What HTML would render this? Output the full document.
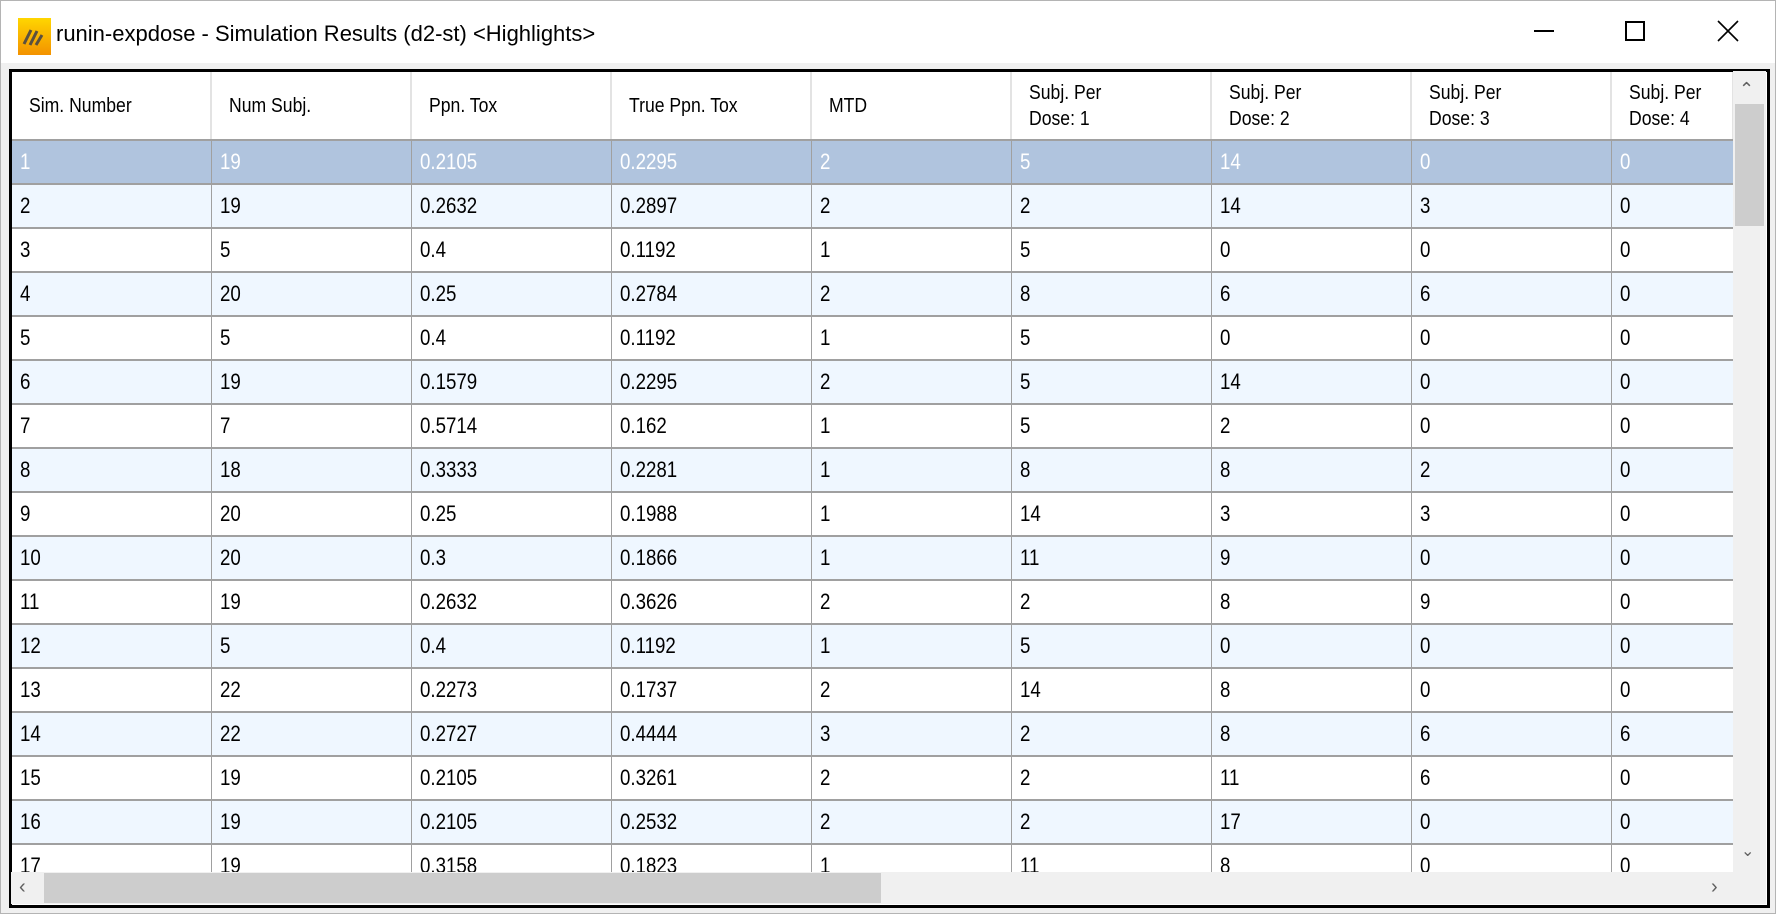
<!DOCTYPE html>
<html><head><meta charset="utf-8"><style>
*{box-sizing:border-box;margin:0;padding:0}
body{width:1776px;height:914px;background:#fff;position:relative;overflow:hidden;font-family:"Liberation Sans",sans-serif}
.win{position:absolute;left:0;top:0;width:1776px;height:914px;border:1px solid #b4b4b4;background:#f0f0f0}
.title{position:absolute;left:0;top:0;width:1774px;height:62px;background:#fff}
.ttext{position:absolute;left:55px;top:20px;font-size:22px;color:#000;white-space:nowrap}
.grid{position:absolute;left:8px;top:68px;width:1761px;height:839px;border:3px solid #000;background:#fff;overflow:hidden}
.cell{position:absolute;height:44px;border-right:1px solid #a0a0a0;overflow:hidden;white-space:nowrap;font-size:22px;line-height:42px;padding-left:8px}
.cell span{display:inline-block;transform:scaleX(.85);transform-origin:left center}
.hdr{position:absolute;top:0;height:67px;background:#fff;border-right:2px solid #e3e3e3;font-size:20px;padding-left:17px;display:flex;align-items:center;line-height:26px;color:#000}
.hdr span{display:inline-block;transform:scaleX(.88);transform-origin:left center}
.hline{position:absolute;left:0;width:1722px;height:2px;background:#a0a0a0}
</style></head><body>
<div class="win">
 <div class="title">
  <svg style="position:absolute;left:17px;top:17px" width="33" height="37" viewBox="0 0 33 37">
   <defs><linearGradient id="g" x1="0" y1="0" x2="0" y2="1"><stop offset="0" stop-color="#ffd600"/><stop offset="1" stop-color="#f39200"/></linearGradient></defs>
   <rect width="33" height="37" fill="url(#g)"/>
   <path d="M6 26 L13 12 M12 27 L19 13 M18 27 L24 17" stroke="#5a5040" stroke-width="3" fill="none"/>
  </svg>
  <div class="ttext">runin-expdose - Simulation Results (d2-st) &lt;Highlights&gt;</div>
  <div style="position:absolute;left:1533px;top:29px;width:20px;height:2px;background:#000"></div>
  <div style="position:absolute;left:1624px;top:20px;width:20px;height:20px;border:2px solid #000"></div>
  <svg style="position:absolute;left:1716px;top:19px" width="22" height="22"><path d="M1 1L21 21M21 1L1 21" stroke="#000" stroke-width="1.6"/></svg>
 </div>
 <div class="grid" id="grid"></div>
</div>
<script>
const colHeaders=["Sim. Number","Num Subj.","Ppn. Tox","True Ppn. Tox","MTD","Subj. Per<br>Dose: 1","Subj. Per<br>Dose: 2","Subj. Per<br>Dose: 3","Subj. Per<br>Dose: 4"];
const simNumber=[1,2,3,4,5,6,7,8,9,10,11,12,13,14,15,16,17];
const numSubj=[19,19,5,20,5,19,7,18,20,20,19,5,22,22,19,19,19];
const ppnTox=["0.2105","0.2632","0.4","0.25","0.4","0.1579","0.5714","0.3333","0.25","0.3","0.2632","0.4","0.2273","0.2727","0.2105","0.2105","0.3158"];
const trueTox=["0.2295","0.2897","0.1192","0.2784","0.1192","0.2295","0.162","0.2281","0.1988","0.1866","0.3626","0.1192","0.1737","0.4444","0.3261","0.2532","0.1823"];
const mtd=[2,2,1,2,1,2,1,1,1,1,2,1,2,3,2,2,1];
const dose1=[5,2,5,8,5,5,5,8,14,11,2,5,14,2,2,2,11];
const dose2=[14,14,0,6,0,14,2,8,3,9,8,0,8,8,11,17,8];
const dose3=[0,3,0,6,0,0,0,2,3,0,9,0,0,6,6,0,0];
const dose4=[0,0,0,0,0,0,0,0,0,0,0,0,0,6,0,0,0];
const cols=[simNumber,numSubj,ppnTox,trueTox,mtd,dose1,dose2,dose3,dose4];
const g=document.getElementById('grid');
const colW=200, colX=i=>i*colW, rowY=r=>67+r*44, dataW=1722;
colHeaders.forEach((h,i)=>{
  const d=document.createElement('div');d.className='hdr';
  
  
  d.style.left=colX(i)+'px';d.style.width=(i==8?dataW-colX(i):colW)+'px';
  d.innerHTML='<span>'+h+'</span>';g.appendChild(d);
});
simNumber.forEach((_,r)=>{
  const y=rowY(r);
  const bg=r==0?'#b0c4de':(r%2==1?'#eff7ff':'#fff');
  const row=document.createElement('div');
  
  
  row.style.cssText='position:absolute;left:0;top:'+y+'px;width:'+dataW+'px;height:44px;background:'+bg;
  g.appendChild(row);
  cols.forEach((c,i)=>{
    const d=document.createElement('div');d.className='cell';
    
    
    d.style.left=colX(i)+'px';d.style.top='2px';d.style.width=(i==8?dataW-colX(i):colW)+'px';
    d.style.color=r==0?'#fff':'#000';
    d.innerHTML='<span>'+c[r]+'</span>';row.appendChild(d);
  });
  const l=document.createElement('div');l.className='hline';
  
  
  l.style.top=y+'px';g.appendChild(l);
});
</script>
<div style="position:absolute;left:1733px;top:71px;width:33px;height:801px;background:#f0f0f0">
 <div style="position:absolute;left:6px;top:8px;font-size:18px;color:#606060">&#8963;</div>
 <div style="position:absolute;left:2px;top:33px;width:29px;height:122px;background:#cdcdcd"></div>
 <div style="position:absolute;left:8px;top:770px;font-size:16px;color:#606060">&#8964;</div>
</div>
<div style="position:absolute;left:11px;top:872px;width:1722px;height:32px;background:#f0f0f0">
 <div style="position:absolute;left:8px;top:4px;font-size:20px;color:#606060">&#8249;</div>
 <div style="position:absolute;left:33px;top:1px;width:837px;height:30px;background:#cdcdcd"></div>
 <div style="position:absolute;left:1700px;top:4px;font-size:20px;color:#606060">&#8250;</div>
</div>
<div style="position:absolute;left:1733px;top:872px;width:33px;height:32px;background:#f0f0f0"></div>
</body></html>
